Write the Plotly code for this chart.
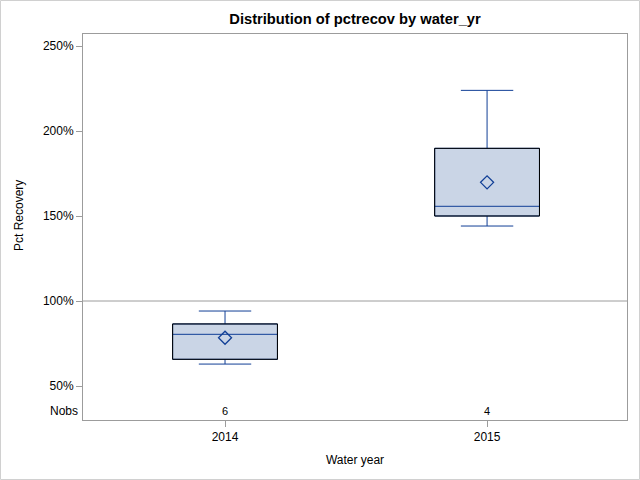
import plotly.graph_objects as go

# Data (percent recovery)
years = ["2014", "2015"]
nobs = [6, 4]
whisker_low = [62.9, 144.1]
q1 = [65.7, 150.0]
median = [80.4, 155.7]
q3 = [86.5, 189.8]
whisker_high = [94.1, 223.9]
means = [78.4, 169.8]
ytick_vals = [50, 100, 150, 200, 250]
ref_value = 100

FILL = "#CAD5E6"
BLUE = "#113F96"
FRAME = "#9C9C9C"
FONT = "Liberation Sans, Arial, sans-serif"
BOXW = 0.4
pos = list(range(len(years)))

fig = go.Figure()
fig.add_trace(go.Box(
    x=pos, q1=q1, median=median, q3=q3,
    lowerfence=whisker_low, upperfence=whisker_high,
    width=BOXW, whiskerwidth=0.5,
    fillcolor=FILL, line=dict(color=BLUE, width=1),
    boxpoints=False, showlegend=False, hoverinfo="skip",
))
fig.add_trace(go.Scatter(
    x=pos, y=means, mode="markers",
    marker=dict(symbol="diamond-open", size=10, color=BLUE, line=dict(width=1.3, color=BLUE)),
    showlegend=False, hoverinfo="skip",
))

shapes = []
# black box outlines derived from the quartile arrays
for i in pos:
    shapes.append(dict(type="rect", xref="x", yref="y",
                       x0=i - BOXW / 2, x1=i + BOXW / 2, y0=q1[i], y1=q3[i],
                       line=dict(color="black", width=1), fillcolor="rgba(0,0,0,0)", layer="above"))
# reference line
shapes.append(dict(type="line", xref="paper", yref="y", x0=0, x1=1, y0=ref_value, y1=ref_value,
                   line=dict(color=FRAME, width=1), layer="below"))
# outer border of the image
shapes.append(dict(type="rect", xref="paper", yref="paper",
                   x0=-82.5 / 544, x1=1 + 12.5 / 544, y0=-59.5 / 386, y1=1 + 33.5 / 386,
                   line=dict(color="#D0D0D0", width=1), fillcolor="rgba(0,0,0,0)"))

annotations = []
NOBS_Y = 35.3
for i in pos:
    annotations.append(dict(x=i, y=NOBS_Y, xref="x", yref="y", text=str(nobs[i]), showarrow=False,
                            font=dict(size=11, color="black", family=FONT)))
annotations.append(dict(x=0, y=NOBS_Y, xref="paper", yref="y", text="Nobs", showarrow=False,
                        xanchor="right", xshift=-3, font=dict(size=12, color="black", family=FONT)))
# y axis title
annotations.append(dict(x=0, y=204 / 386, xref="paper", yref="paper", text="Pct Recovery",
                        showarrow=False, textangle=-90, xanchor="center", yanchor="middle",
                        xshift=-64, font=dict(size=12, color="black", family=FONT)))

fig.update_layout(
    width=640, height=480,
    margin=dict(l=83, r=13, t=34, b=60),
    paper_bgcolor="white", plot_bgcolor="white",
    font=dict(family=FONT, size=12, color="black"),
    title=dict(text="<b>Distribution of pctrecov by water_yr</b>", x=355 / 640, xanchor="center",
               y=1 - 19 / 480, yanchor="middle", font=dict(size=14.7, family=FONT)),
    shapes=shapes, annotations=annotations,
    xaxis=dict(range=[-0.542, 1.534], tickvals=pos, ticktext=years, automargin=False,
               ticks="outside", ticklen=6, tickcolor=FRAME,
               showline=True, linecolor=FRAME, mirror=True, showgrid=False, zeroline=False,
               tickfont=dict(size=12), title=dict(text="Water year", font=dict(size=12), standoff=12)),
    yaxis=dict(range=[30, 257.06], tickvals=ytick_vals, ticktext=[f"{v}%" for v in ytick_vals],
               automargin=False,
               ticks="outside", ticklen=6, tickcolor=FRAME,
               showline=True, linecolor=FRAME, mirror=True, showgrid=False, zeroline=False,
               tickfont=dict(size=12)),
)

fig.write_html("out.html", config={"displayModeBar": False},
               post_script="document.body.style.margin='0';")
